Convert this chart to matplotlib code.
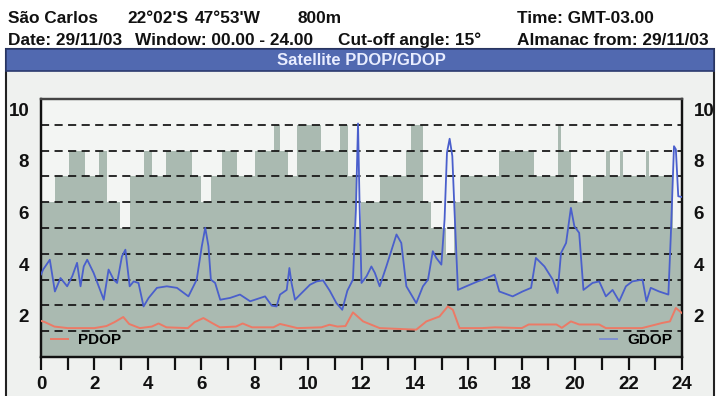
import matplotlib.pyplot as plt
from matplotlib.patches import Rectangle
from matplotlib.lines import Line2D

plt.rcParams['font.family'] = ['Liberation Sans', 'DejaVu Sans']

# visible satellites: count between consecutive edges (hours)
sat_edges = [0.00, 0.52, 1.04, 1.65, 2.18, 2.48, 2.97, 3.32, 3.84, 4.15, 4.68, 5.67,
             6.00, 6.36, 6.77, 7.33, 8.01, 8.72, 8.95, 9.26, 9.57, 10.47, 11.19, 11.50,
             11.78, 11.98, 12.68, 13.68, 13.87, 14.30, 14.61, 15.15, 15.47, 15.67, 17.16,
             18.47, 19.36, 19.48, 19.84, 19.97, 20.30, 21.17, 21.30, 21.67, 21.80, 22.66,
             22.76, 23.66, 24.00]
sat_count = [6, 7, 8, 7, 8, 6, 5, 7, 8, 7, 8,
             7, 6, 7, 8, 7, 8, 9, 8, 7, 9, 8, 9,
             7, 5, 6, 7, 8, 9, 6, 5, 4, 6, 7,
             8, 7, 9, 8, 7, 6, 7, 8, 7, 8, 7,
             8, 7, 5]

gdop_t = [0.00, 0.08, 0.33, 0.52, 0.73, 0.98, 1.17, 1.35, 1.48, 1.60, 1.73, 1.97,
          2.35, 2.53, 2.72, 2.85, 3.03, 3.16, 3.32, 3.47, 3.65, 3.84, 4.03, 4.34,
          4.71, 5.09, 5.52, 5.83, 6.02, 6.15, 6.27, 6.36, 6.52, 6.71, 7.08, 7.45,
          7.83, 8.01, 8.39, 8.64, 8.82, 8.95, 9.20, 9.30, 9.38, 9.51, 9.76, 10.07,
          10.32, 10.56, 10.81, 11.06, 11.28, 11.47, 11.68, 11.79, 11.87, 11.93, 12.00,
          12.19, 12.37, 12.50, 12.68, 12.93, 13.31, 13.49, 13.68, 14.05, 14.30, 14.49,
          14.67, 14.80, 14.99, 15.11, 15.20, 15.30, 15.40, 15.48, 15.61, 15.92, 16.35,
          16.54, 16.98, 17.16, 17.66, 18.03, 18.35, 18.53, 18.85, 19.16, 19.34, 19.47,
          19.66, 19.84, 19.97, 20.15, 20.31, 20.65, 20.90, 21.15, 21.40, 21.65, 21.90,
          22.14, 22.52, 22.67, 22.83, 23.14, 23.49, 23.58, 23.70, 23.77, 23.86, 24.00]
gdop = [3.60, 3.79, 4.17, 2.94, 3.46, 3.14, 3.53, 4.05, 3.14, 3.91, 4.17, 3.66,
        2.62, 3.79, 3.40, 3.27, 4.30, 4.56, 3.14, 3.33, 3.27, 2.36, 2.69, 3.08,
        3.14, 3.08, 2.75, 3.40, 4.69, 5.41, 4.69, 3.40, 3.27, 2.62, 2.69, 2.82,
        2.56, 2.62, 2.75, 2.39, 2.36, 2.82, 3.00, 3.85, 3.27, 2.62, 2.88, 3.20,
        3.33, 3.37, 2.97, 2.49, 2.23, 2.97, 3.40, 6.10, 9.45, 6.20, 3.27,
        3.53, 3.91, 3.66, 3.14, 3.91, 5.15, 4.82, 3.14, 2.49, 3.14, 3.40,
        4.50, 4.24, 3.98, 5.73, 8.32, 8.86, 8.19, 6.12, 3.00, 3.14, 3.33,
        3.40, 3.59, 2.94, 2.75, 2.94, 3.08, 4.24, 3.91, 3.40, 2.88, 4.43,
        4.82, 6.18, 5.47, 5.21, 3.00, 3.27, 3.33, 2.75, 3.00, 2.56, 3.14,
        3.33, 3.40, 2.56, 3.08, 2.94, 2.82, 5.08, 8.57, 8.45, 6.63, 6.60]

pdop_t = [0.00, 0.15, 0.50, 1.00, 2.00, 2.45, 2.75, 3.08, 3.30, 3.70, 4.15, 4.40,
          4.70, 5.50, 5.75, 6.08, 6.40, 6.70, 7.30, 7.55, 7.90, 8.70, 8.95, 9.20,
          9.60, 10.50, 10.80, 11.10, 11.40, 11.68, 12.06, 12.68, 14.05, 14.43, 14.92,
          15.23, 15.42, 15.67, 16.50, 17.00, 18.00, 18.26, 19.30, 19.50, 19.84, 20.15,
          20.90, 21.15, 22.50, 23.26, 23.55, 23.77, 24.00]
pdop = [1.80, 1.75, 1.58, 1.52, 1.52, 1.60, 1.75, 1.95, 1.68, 1.52, 1.58, 1.70,
        1.55, 1.52, 1.75, 1.91, 1.72, 1.55, 1.58, 1.70, 1.55, 1.55, 1.68, 1.62,
        1.52, 1.55, 1.65, 1.58, 1.60, 2.13, 1.78, 1.52, 1.46, 1.78, 1.97,
        2.36, 2.23, 1.52, 1.52, 1.55, 1.52, 1.66, 1.66, 1.53, 1.78, 1.66,
        1.66, 1.52, 1.52, 1.72, 1.78, 2.30, 2.10]

hours = list(range(25))
hour_labels = [str(h) if h % 2 == 0 else '' for h in hours]
dop_ticks = [2, 4, 6, 8, 10]

W, H = 720, 396


def fx(px):
    return px / W


def fy(py):
    return 1 - py / H


fig = plt.figure(figsize=(7.2, 3.96), dpi=100, facecolor='white')

# window panel and title bar, kept behind the axes
fig.add_artist(Rectangle((fx(6), -0.02), fx(714) - fx(6), fy(49) + 0.02,
                         transform=fig.transFigure, facecolor='#eff1ef',
                         edgecolor='#222222', lw=1.5, zorder=-10))
fig.add_artist(Rectangle((fx(6), fy(71)), fx(714) - fx(6), (71 - 49) / H,
                         transform=fig.transFigure, facecolor='#5169b0',
                         edgecolor='#2b3a6e', lw=1.2, zorder=-9))
fig.text(fx(361), fy(60.5), 'Satellite PDOP/GDOP', color='#e8edff', fontsize=12,
         fontweight='bold', ha='center', va='center')

hdr = dict(fontsize=12.4, fontweight='bold', va='baseline', color='#111111')
fig.text(fx(8), fy(23), 'São Carlos', **hdr)
fig.text(fx(127), fy(23), "22°02'S", **hdr)
fig.text(fx(195), fy(23), "47°53'W", **hdr)
fig.text(fx(297), fy(23), '800m', **hdr)
fig.text(fx(517), fy(23), 'Time: GMT-03.00', **hdr)
fig.text(fx(8), fy(45), 'Date: 29/11/03', **hdr)
fig.text(fx(135), fy(45), 'Window: 00.00 - 24.00', **hdr)
fig.text(fx(338), fy(45), 'Cut-off angle: 15°', **hdr)
fig.text(fx(517), fy(45), 'Almanac from: 29/11/03', **hdr)

ax = fig.add_axes([fx(41), fy(357), (682 - 41) / W, (357 - 99) / H])
ax.set_facecolor('#f3f5f3')
ax.set_xlim(0, 24)
ax.set_ylim(0, 10)
ax.stairs(sat_count, sat_edges, fill=True, baseline=0, color='#aabab1', zorder=1)
for n in range(1, 10):
    ax.axhline(n, color='#1a1a1a', lw=1.3, dashes=(4.5, 3), zorder=2)
ax.set_yticks([])
ax.set_xticks(hours, hour_labels)
ax.tick_params(axis='x', direction='out', length=9.5, width=1.6, pad=4,
               labelsize=13.5, colors='#111111')
for lab in ax.get_xticklabels():
    lab.set_fontweight('bold')

ax2 = ax.twinx()
ax2.set_ylim(0.4, 10.4)
p_line, = ax2.plot(pdop_t, pdop, color='#ec7a66', lw=1.4, zorder=3)
g_line, = ax2.plot(gdop_t, gdop, color='#4a5fcc', lw=1.3, zorder=3)
ax2.set_yticks(dop_ticks)
ax2.tick_params(axis='y', left=False, right=False, labelleft=True, labelright=True,
                pad=5, labelsize=13.5, colors='#111111')
for lab in ax2.get_yticklabels():
    lab.set_fontweight('bold')

for a in (ax, ax2):
    for side in ('left', 'right', 'bottom'):
        a.spines[side].set_linewidth(1.6)
        a.spines[side].set_color('#111111')
    a.spines['top'].set_linewidth(1.6)
    a.spines['top'].set_color('#444444')

leg_kw = dict(frameon=False, handlelength=1.1, handletextpad=0.7, borderaxespad=0.25,
              prop={'weight': 'bold', 'size': 11})
leg1 = ax2.legend([Line2D([], [], color='#ec7a66', lw=1.4)], ['PDOP'],
                  loc='lower left', **leg_kw)
ax2.add_artist(leg1)
ax2.legend([Line2D([], [], color='#7e8fd0', lw=1.4)], ['GDOP'], loc='lower right', **leg_kw)

fig.savefig('out.png', dpi=100, facecolor=fig.get_facecolor())
